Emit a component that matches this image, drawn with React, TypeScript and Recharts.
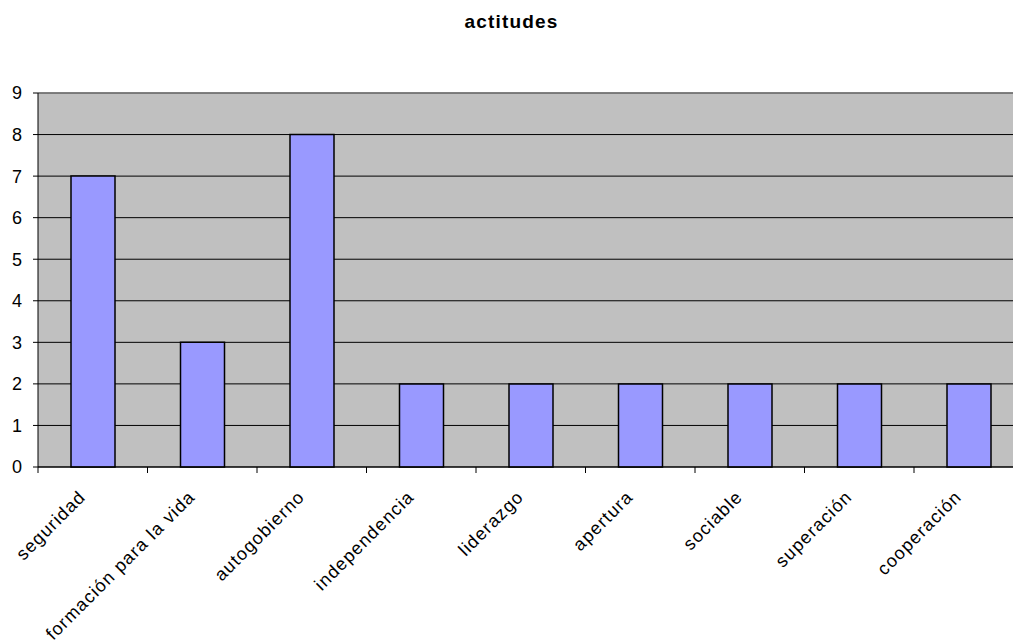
import React from "react";
import {
  BarChart,
  Bar,
  XAxis,
  YAxis,
  CartesianGrid,
  ReferenceLine,
} from "recharts";

const categories = [
  "seguridad",
  "formación para la vida",
  "autogobierno",
  "independencia",
  "liderazgo",
  "apertura",
  "sociable",
  "superación",
  "cooperación",
];
const values = [7, 3, 8, 2, 2, 2, 2, 2, 2];
const yTicks = [0, 1, 2, 3, 4, 5, 6, 7, 8, 9];
const title = "actitudes";

const data = categories.map((name, i) => ({ name, value: values[i] }));

const FONT = "'Liberation Sans', Arial, sans-serif";

const CategoryTick = (props: any) => {
  const { x, y, payload } = props;
  const half = payload && payload.offset ? payload.offset : 0;
  return (
    <g>
      <line x1={x - half} y1={y} x2={x - half} y2={y + 6} stroke="#000" strokeWidth={1} />
      {payload.index === categories.length - 1 && (
        <line x1={x + half} y1={y} x2={x + half} y2={y + 6} stroke="#000" strokeWidth={1} />
      )}
      <g transform={`translate(${x - 6},${y + 31}) rotate(-45)`}>
        <text
          x={0}
          y={0}
          textAnchor="end"
          fontFamily={FONT}
          fontSize={18}
          letterSpacing={1.15}
          fill="#000"
        >
          {payload.value}
        </text>
      </g>
    </g>
  );
};

export default function App() {
  return (
    <div
      style={{
        position: "absolute",
        left: 0,
        top: 0,
        width: 1013,
        height: 644,
        overflow: "hidden",
        background: "#fff",
      }}
    >
      <div
        style={{
          position: "absolute",
          left: 0,
          top: 12,
          width: 1023,
          textAlign: "center",
          fontFamily: FONT,
          fontWeight: "bold",
          fontSize: 19,
          lineHeight: "19px",
          letterSpacing: 1.2,
          color: "#000",
        }}
      >
        {title}
      </div>
      <BarChart
        width={1030}
        height={644}
        data={data}
        margin={{ top: 93, right: 6.5, bottom: 0, left: 0 }}
        style={{ position: "absolute", left: 0, top: 0 }}
      >
        <CartesianGrid
          vertical={false}
          fill="#C0C0C0"
          fillOpacity={1}
          stroke="#000"
          strokeWidth={1}
        />
        <XAxis
          dataKey="name"
          type="category"
          height={177}
          interval={0}
          tickSize={0}
          tickMargin={0}
          tickLine={false}
          axisLine={{ stroke: "#000", strokeWidth: 1 }}
          tick={<CategoryTick />}
        />
        <YAxis
          width={38}
          domain={[0, 9]}
          ticks={yTicks}
          interval={0}
          tickSize={5}
          tickMargin={11}
          axisLine={{ stroke: "#000", strokeWidth: 1 }}
          tickLine={{ stroke: "#000", strokeWidth: 1 }}
          tick={{ fontFamily: FONT, fontSize: 18, fill: "#000" }}
        />
        <ReferenceLine y={9} stroke="#808080" strokeWidth={1.5} />
        <Bar
          dataKey="value"
          barSize={44}
          fill="#9999FF"
          stroke="#000"
          strokeWidth={1.5}
          isAnimationActive={false}
        />
      </BarChart>
    </div>
  );
}
